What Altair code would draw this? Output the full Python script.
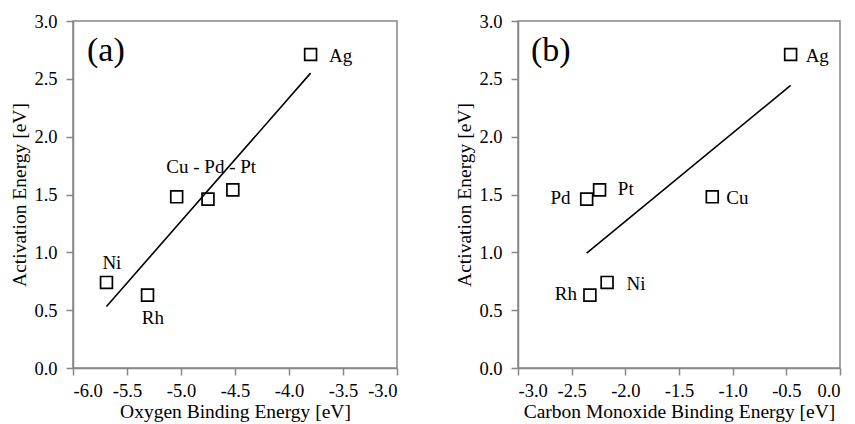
import altair as alt
import pandas as pd

metals = ["Ag", "Cu", "Pd", "Pt", "Ni", "Rh"]
o_binding = [-3.80, -5.04, -4.75, -4.52, -5.69, -5.31]
co_binding = [-0.46, -1.19, -2.36, -2.24, -2.17, -2.33]
activation = [2.71, 1.48, 1.46, 1.54, 0.74, 0.63]

# label anchors (data coordinates) for panel (a)
a_labels = ["Ag", "Cu - Pd - Pt", "Ni", "Rh"]
a_label_x = [-3.63, -4.72, -5.64, -5.26]
a_label_y = [2.70, 1.74, 0.91, 0.43]
a_label_align = ["left", "center", "center", "center"]

# label anchors (data coordinates) for panel (b)
b_labels = ["Ag", "Pt", "Pd", "Cu", "Ni", "Rh"]
b_label_x = [-0.32, -2.07, -2.51, -1.06, -1.99, -2.45]
b_label_y = [2.70, 1.55, 1.47, 1.47, 0.73, 0.64]
b_label_align = ["left", "left", "right", "left", "left", "right"]

panel_tags = ["(a)", "(b)"]
tag_x = [-5.87, -2.88]
tag_y = [2.74, 2.74]

y_ticks = [0.0, 0.5, 1.0, 1.5, 2.0, 2.5, 3.0]
xa_ticks = [-6.0, -5.5, -5.0, -4.5, -4.0, -3.5, -3.0]
xb_ticks = [-3.0, -2.5, -2.0, -1.5, -1.0, -0.5, 0.0]

pts = pd.DataFrame({"metal": metals, "o": o_binding, "co": co_binding, "ea": activation})

FONT = "Liberation Serif"
GRAY = "#878787"
LBL = "replace(format(datum.value, '.1f'), '\u2212', '-')"


def panel(xfield, xtitle, xdom, xticks, labels, lx, ly, lalign, tag, tx, ty, w):
    xs = alt.Scale(domain=xdom, nice=False, zero=False)
    ys = alt.Scale(domain=[0, 3], nice=False)
    xax = alt.Axis(values=xticks, labelExpr=LBL, title=xtitle)
    yax = alt.Axis(values=y_ticks, labelExpr=LBL, title="Activation Energy [eV]")

    base = alt.Chart(pts)
    squares = base.mark_point(shape="square", size=140, filled=False, color="black",
                              strokeWidth=1.7, opacity=1).encode(
        x=alt.X(f"{xfield}:Q", scale=xs, axis=xax),
        y=alt.Y("ea:Q", scale=ys, axis=yax),
    )
    trend = base.mark_line(color="black", strokeWidth=1.6).encode(
        x=alt.X(f"{xfield}:Q", scale=xs, axis=xax),
        y=alt.Y("ea:Q", scale=ys, axis=yax),
    ).transform_regression(xfield, "ea")

    ldf = pd.DataFrame({"t": labels, "x": lx, "y": ly, "a": lalign})
    text_layers = []
    for al in ["left", "center", "right"]:
        sub = ldf[ldf["a"] == al]
        if len(sub) == 0:
            continue
        text_layers.append(
            alt.Chart(sub).mark_text(font=FONT, fontSize=19, color="black",
                                     align=al, baseline="middle").encode(
                x=alt.X("x:Q", scale=xs, axis=xax),
                y=alt.Y("y:Q", scale=ys, axis=yax),
                text="t:N",
            )
        )
    tagdf = pd.DataFrame({"t": [tag], "x": [tx], "y": [ty]})
    tag_layer = alt.Chart(tagdf).mark_text(font=FONT, fontSize=34, color="black",
                                           align="left", baseline="middle").encode(
        x=alt.X("x:Q", scale=xs, axis=xax),
        y=alt.Y("y:Q", scale=ys, axis=yax),
        text="t:N",
    )
    return alt.layer(trend, squares, *text_layers, tag_layer).properties(width=w, height=347)


left = panel("o", "Oxygen Binding Energy [eV]", [-6, -3], xa_ticks,
             a_labels, a_label_x, a_label_y, a_label_align,
             panel_tags[0], tag_x[0], tag_y[0], 324)
right = panel("co", "Carbon Monoxide Binding Energy [eV]", [-3, 0], xb_ticks,
              b_labels, b_label_x, b_label_y, b_label_align,
              panel_tags[1], tag_x[1], tag_y[1], 322)

chart = alt.hconcat(left, right, spacing=55).properties(
    padding={"left": 1, "top": 3, "right": 0, "bottom": 0}
).configure_view(
    stroke=GRAY, strokeWidth=1.5
).configure_axis(
    grid=False,
    domainColor=GRAY, domainWidth=1.5,
    tickColor=GRAY, tickWidth=1.5, tickSize=7,
    labelFont=FONT, labelFontSize=18.5, labelColor="black", labelPadding=9,
    titleFont=FONT, titleFontSize=19.5, titleFontWeight="normal", titleColor="black",
    titlePadding=4,
).configure_axisX(labelPadding=6, titlePadding=3)

chart.save("out.html", embed_options={"renderer": "svg", "actions": False})
